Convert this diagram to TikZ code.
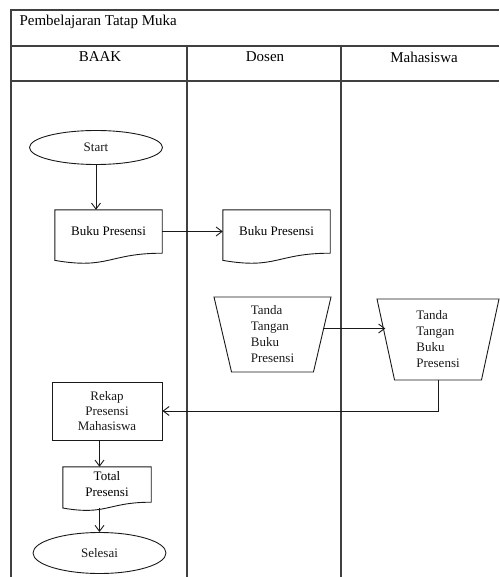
\documentclass[tikz,border=0pt]{standalone}
\usepackage{fontspec}
\setmainfont{Liberation Serif}
\usetikzlibrary{arrows.meta,shapes.geometric,calc}

\newcommand{\hurufjudul}{\fontsize{15}{17}\selectfont}
\newcommand{\hurufisi}{\fontsize{13}{16}\selectfont}

% outline of a document symbol around node #1
\newcommand{\dokumen}[1]{%
  \draw[garis] (#1.north west) -- (#1.north east) -- (#1.south east)
    .. controls (#1.south) and ($(#1.south)!-0.38!(#1.north)$)
    .. ($(#1.south west)!-0.165!(#1.north west)$) -- cycle;
  \coordinate (#1-w) at ($(#1.south)!-0.163!(#1.north)$);}

\begin{document}
\begin{tikzpicture}[x=1pt, y=-1pt,
    garis/.style={line width=0.9pt, black!90},
    bingkai/.style={line width=1.4pt, black!75},
    panah/.style={garis, -{Straight Barb[length=6pt,width=9pt]}},
    terminal/.style={ellipse, draw, garis, font=\hurufisi, inner sep=1pt},
    dok/.style={font=\hurufisi, align=center, inner sep=2pt},
    proses/.style={draw, garis, font=\hurufisi, align=center, inner sep=2pt},
    ttd/.style={trapezium, draw, garis, shape border rotate=180,
        trapezium left angle=74, trapezium right angle=74,
        trapezium stretches body, font=\hurufisi, align=left, inner sep=2pt}]
	\useasboundingbox (0,0) rectangle (499,577);

	% swimlane frame
	\draw[bingkai] (11,577) -- (11,10) -- (499,10);
	\draw[bingkai] (11,46) -- (499,46);
	\draw[bingkai] (11,81) -- (499,81);
	\draw[bingkai] (187,46) -- (187,577);
	\draw[bingkai] (341,46) -- (341,577);

	\node[anchor=west, font=\hurufjudul] (judul) at (16,22) {Pembelajaran Tatap Muka};
	\node[font=\hurufjudul] (baak) at (100,57) {BAAK};
	\node[font=\hurufjudul] (dosen) at (265,57) {Dosen};
	\node[font=\hurufjudul] (mhs) at (424,57) {Mahasiswa};

	% symbols
	\node[terminal, minimum width=133, minimum height=34] (start) at (96,147.5) {Start};
	\node[dok, minimum width=107, minimum height=43] (buku1) at (108.5,231.5) {Buku Presensi};
	\dokumen{buku1}
	\node[dok, minimum width=107, minimum height=43] (buku2) at (276.5,231.5) {Buku Presensi};
	\dokumen{buku2}
	\node[ttd, minimum width=117, minimum height=75] (ttd1) at (272.5,334.5) {Tanda\\Tangan\\Buku\\Presensi};
	\node[ttd, minimum width=122, minimum height=81] (ttd2) at (438,339.5) {Tanda\\Tangan\\Buku\\Presensi};
	\node[proses, minimum width=110, minimum height=58, font={\fontsize{13}{15}\selectfont}] (rekap) at (107,411) {Rekap\\Presensi\\Mahasiswa};
	\node[dok, minimum width=88, minimum height=35] (total) at (107,484.5) {Total\\Presensi};
	\dokumen{total}
	\node[terminal, minimum width=133, minimum height=41] (selesai) at (99.5,553) {Selesai};

	% connectors
	\draw[panah] (start) -- (start |- buku1.north);
	\draw[panah] (buku1) -- (buku2);
	\draw[panah] ([yshift=6pt]ttd1.east) -- ([yshift=6pt]ttd1.east -| ttd2.west);
	\draw[panah] (ttd2.south) |- (rekap.east);
	\draw[panah] (rekap.south -| selesai) -- (total.north -| selesai);
	\draw[panah] (total-w -| selesai) -- (selesai);
\end{tikzpicture}
\end{document}
